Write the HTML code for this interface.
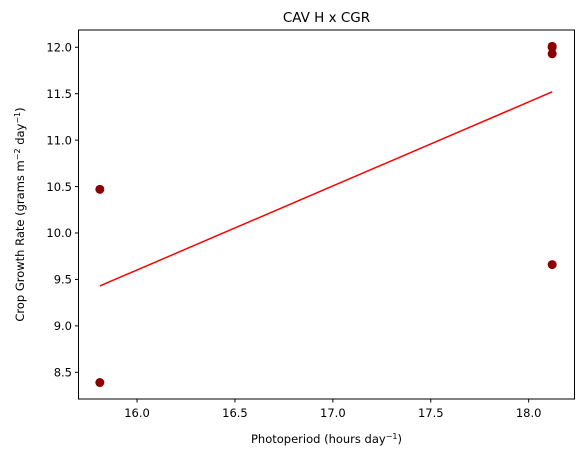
<!DOCTYPE html>
<html><head><meta charset="utf-8"><style>
body{margin:0;background:#fff}
svg{font-family:"DejaVu Sans","Liberation Sans",sans-serif}
</style></head><body>
<svg id="chart" width="583" height="460" xmlns="http://www.w3.org/2000/svg">
<rect width="583" height="460" fill="#fff"/>
<text x="326.5" y="22" text-anchor="middle" font-size="13.5">CAV H x CGR</text>
<g id="plot"></g>
<rect x="78.5" y="30" width="496" height="369" fill="none" stroke="#000" stroke-width="1"/>
<text x="326.5" y="443" text-anchor="middle" font-size="11.5">Photoperiod (hours day<tspan baseline-shift="super" font-size="8">−1</tspan>)</text>
<text transform="translate(24,214.5) rotate(-90)" text-anchor="middle" font-size="11.5">Crop Growth Rate (grams m<tspan baseline-shift="super" font-size="8">−2</tspan> day<tspan baseline-shift="super" font-size="8">−1</tspan>)</text>
</svg>
<script>
const xVals=[15.81,15.81,18.12,18.12,18.12,18.12];
const yVals=[10.47,8.39,12.01,12.0,11.93,9.66];
const fitX=[15.81,18.12];
const fitY=[9.43,11.52];
const xTicks=[16.0,16.5,17.0,17.5,18.0];
const yTicks=[8.5,9.0,9.5,10.0,10.5,11.0,11.5,12.0];
const X0=78.5,X1=574.5,Y0=399,Y1=30,xmin=15.701,xmax=18.234,ymin=8.2125,ymax=12.186;
const sx=v=>X0+(v-xmin)/(xmax-xmin)*(X1-X0);
const sy=v=>Y0-(v-ymin)/(ymax-ymin)*(Y0-Y1);
const NS='http://www.w3.org/2000/svg';
const g=document.getElementById('plot');
function mk(t,a){const e=document.createElementNS(NS,t);for(const k in a)e.setAttribute(k,a[k]);g.appendChild(e);return e;}
xTicks.forEach(v=>{
 const l=mk('line',{x1:sx(v),x2:sx(v),y1:399,y2:402.5,stroke:'#000'});
 
 
 const t=mk('text',{x:sx(v),y:417,'text-anchor':'middle','font-size':11.5});t.textContent=v.toFixed(1);
 
 
});
yTicks.forEach(v=>{
 const l=mk('line',{x1:75,x2:78.5,y1:sy(v),y2:sy(v),stroke:'#000'});
 
 
 const t=mk('text',{x:72,y:sy(v)+4.2,'text-anchor':'end','font-size':11.5});t.textContent=v.toFixed(1);
 
 
});
xVals.forEach((v,i)=>{
 const c=mk('circle',{cx:sx(v),cy:sy(yVals[i]),r:4.5,fill:'#8b0000'});
 
 
});
const ln=mk('line',{x1:sx(fitX[0]),y1:sy(fitY[0]),x2:sx(fitX[1]),y2:sy(fitY[1]),stroke:'#ff0000','stroke-width':1.5});


</script>
</body></html>
